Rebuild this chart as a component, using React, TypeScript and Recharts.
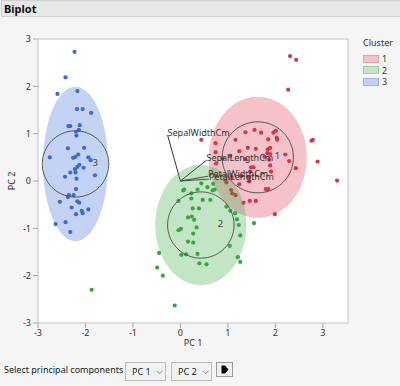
import React from "react";
import {
  ScatterChart,
  Scatter,
  XAxis,
  YAxis,
  CartesianGrid,
  ReferenceArea,
  ReferenceLine,
} from "recharts";

// principal component scores per cluster, [PC 1, PC 2]
const cluster1Points: [number, number][] = [
  [2.31, 2.64], [2.44, 2.56], [2.27, 1.93], [2.76, 0.85], [2.79, 0.87], [2.89, 0.41],
  [3.3, 0.01], [0.44, 0.87], [2.43, 0.27], [1.37, 1.03], [1.56, 1.08], [1.7, 1.02],
  [1.96, 1.02], [2.01, 1.06], [1.16, 0.87], [1.85, 0.88], [2.03, 0.91], [2.04, 0.87],
  [0.74, 0.8], [1.42, 0.7], [1.59, 0.68], [1.84, 0.67], [1.89, 0.7], [1.24, 0.63],
  [0.74, 0.61], [1.83, 0.59], [1.89, 0.57], [2.21, 0.56], [1.05, 0.53], [1.77, 0.51],
  [0.89, 0.48], [1.37, 0.46], [1.87, 0.45], [2.29, 0.42], [0.75, 0.37], [1.89, 0.33],
  [1.49, 0.29], [1.54, 0.29], [1.47, 0.2], [1.91, 0.2], [1.28, 0.11], [1.44, 0.08],
  [1.08, 0.08], [1.45, -0.01], [1.24, -0.07], [1.8, -0.17], [1.85, -0.17], [0.95, 0.01],
  [0.97, -0.03], [1.07, -0.19], [1.09, -0.26], [1.16, -0.3], [1.33, -0.46], [1.46, -0.42],
  [1.59, -0.42], [1.99, -0.7],
];

const cluster2Points: [number, number][] = [
  [0.08, -0.18], [0.06, -0.2], [0.23, -0.26], [0.44, -0.05], [0.36, -0.18], [0.57, -0.13],
  [0.69, -0.06], [0.68, -0.2], [0.72, -0.18], [-0.04, -0.42], [0.23, -0.37], [0.47, -0.4],
  [0.63, -0.4], [0.26, -0.58], [0.39, -0.58], [0.97, -0.54], [1.05, -0.63], [0.16, -0.77],
  [0.24, -0.75], [0.29, -0.82], [1.15, -0.68], [1.19, -0.81], [1.23, -0.93], [0.34, -0.98],
  [-0.04, -1.04], [0.01, -1.01], [0.27, -1.11], [1.26, -1.15], [0.16, -1.28], [0.27, -1.3],
  [1.04, -1.37], [-0.45, -1.52], [0.02, -1.56], [0.12, -1.55], [0.36, -1.54], [1.21, -1.61],
  [1.26, -1.71], [0.4, -1.74], [0.55, -1.76], [-0.49, -1.83], [-0.37, -2.0], [1.55, -0.89],
  [-0.12, -2.63], [-1.87, -2.3],
];

const cluster3Points: [number, number][] = [
  [-2.23, 2.73], [-2.42, 2.19], [-2.59, 1.84], [-2.17, 1.9], [-2.18, 1.52], [-2.06, 1.52],
  [-1.88, 1.44], [-2.36, 1.16], [-2.32, 1.16], [-2.12, 1.18], [-2.14, 1.08], [-2.2, 1.04],
  [-2.19, 0.96], [-2.37, 0.69], [-2.03, 0.7], [-2.75, 0.5], [-2.26, 0.49], [-2.21, 0.51],
  [-2.15, 0.56], [-1.94, 0.5], [-1.89, 0.44], [-2.13, 0.34], [-2.17, 0.3], [-2.22, 0.25],
  [-2.04, 0.28], [-2.32, 0.18], [-2.21, 0.18], [-2.43, 0.09], [-1.8, 0.12], [-2.19, 0.05],
  [-2.2, -0.17], [-2.35, -0.3], [-2.25, -0.3], [-2.37, -0.34], [-2.17, -0.43], [-2.13, -0.46],
  [-2.54, -0.44], [-2.29, -0.56], [-2.08, -0.63], [-2.06, -0.68], [-1.94, -0.6], [-2.2, -0.7],
  [-2.42, -0.87], [-2.63, -0.91], [-2.32, -1.08],
];

const clusterNames = ["1", "2", "3"];
const clusterColors = ["#d93448", "#34a83e", "#3a6ad8"];
const swatchFill = ["#f3c5cb", "#c5e5c6", "#c5d1f1"];
const swatchBorder = ["#e2a0aa", "#9dd1a1", "#9fb3e8"];

// cluster means and density ellipse radii
const centerX = [1.63, 0.43, -2.21];
const centerY = [0.5, -0.93, 0.36];
const ellipseRx = [1.03, 0.96, 0.685];
const ellipseRy = [1.28, 1.27, 1.63];
const circleR = [0.75, 0.7, 0.7];

// biplot loading rays
const variables = ["SepalWidthCm", "SepalLengthCm", "PetalWidthCm", "PetalLengthCm"];
const loadingX = [-0.27, 0.55, 0.58, 0.6];
const loadingY = [0.97, 0.44, 0.1, 0.04];

const xTicks = [-3, -2, -1, 0, 1, 2, 3];
const yTicks = [-3, -2, -1, 0, 1, 2, 3];

const toXY = (pts: [number, number][]) => pts.map(([x, y]) => ({ x, y }));
const outline = (cx: number, cy: number, rx: number, ry: number) =>
  Array.from({ length: 97 }, (_, i) => {
    const t = (i / 96) * Math.PI * 2;
    return { x: cx + rx * Math.cos(t), y: cy + ry * Math.sin(t) };
  });

const allPoints = [cluster1Points, cluster2Points, cluster3Points];
const font = "'Noto Sans', sans-serif";
const hidden = () => <g />;

function Dropdown({ left, text }: { left: number; text: string }) {
  return (
    <div
      style={{
        position: "absolute",
        left,
        top: 362,
        width: 41,
        height: 19,
        border: "1px solid #bdbdbd",
        background: "#f2f2f2",
        boxSizing: "border-box",
        color: "#222",
      }}
    >
      <span style={{ position: "absolute", left: 6, top: 0, fontSize: 9, lineHeight: "17px" }}>{text}</span>
      <svg width="7" height="5" style={{ position: "absolute", left: 30, top: 7 }}>
        <path d="M0.5 0.8 L3.5 3.8 L6.5 0.8" fill="none" stroke="#888" strokeWidth="0.9" />
      </svg>
    </div>
  );
}

export default function App() {
  return (
    <div
      style={{
        position: "absolute",
        left: 0,
        top: 0,
        width: 400,
        height: 386,
        background: "#f5f5f5",
        fontFamily: font,
        overflow: "hidden",
      }}
    >
      <div style={{ position: "absolute", left: 0, top: 0 }}>
        <ScatterChart width={400} height={360} margin={{ top: 39, right: 52, bottom: 7, left: 0 }}>
          <CartesianGrid horizontal={false} vertical={false} fill="#ffffff" />
          <XAxis
            type="number"
            dataKey="x"
            domain={[-3, 3.53]}
            ticks={xTicks}
            allowDataOverflow
            height={30}
            axisLine={false}
            tickSize={5}
            tickLine={{ stroke: "#a8a8a8" }}
            tick={{ fontSize: 9, fill: "#333" }}
            label={{ value: "PC 1", position: "insideBottom", offset: 7, fontSize: 9, fill: "#333" }}
          />
          <YAxis
            type="number"
            dataKey="y"
            domain={[-3, 3]}
            ticks={yTicks}
            allowDataOverflow
            width={38}
            axisLine={false}
            tickSize={5}
            tickLine={{ stroke: "#a8a8a8" }}
            tick={{ fontSize: 9, fill: "#333" }}
            label={{
              value: "PC 2",
              angle: -90,
              position: "insideLeft",
              offset: 12,
              fontSize: 9,
              fill: "#333",
              style: { textAnchor: "middle" },
            }}
          />
          <ReferenceArea x1={-3} x2={3.53} y1={-3} y2={3} fill="none" stroke="#c4c4c4" strokeWidth={1} />
          {allPoints.map((pts, i) => [
            <Scatter
              key={`e${i}`}
              data={outline(centerX[i], centerY[i], ellipseRx[i], ellipseRy[i])}
              fill={clusterColors[i]}
              line={{ fill: clusterColors[i], fillOpacity: 0.3, stroke: "none" }}
              shape={hidden}
              isAnimationActive={false}
            />,
            <Scatter
              key={`p${i}`}
              data={toXY(pts)}
              fill={clusterColors[i]}
              shape={(p: any) => <circle cx={p.cx} cy={p.cy} r={2.1} fill={clusterColors[i]} />}
              isAnimationActive={false}
            />,
          ])}
          {clusterNames.map((_, i) => (
            <Scatter
              key={`c${i}`}
              data={outline(centerX[i], centerY[i], circleR[i], circleR[i])}
              fill="#555"
              line={{ fill: "none", stroke: "#555", strokeWidth: 1 }}
              shape={hidden}
              isAnimationActive={false}
            />
          ))}
          {variables.map((v, i) => (
            <ReferenceLine
              key={v}
              segment={[
                { x: 0, y: 0 },
                { x: loadingX[i], y: loadingY[i] },
              ]}
              stroke="#333"
              strokeWidth={1}
            />
          ))}
          <Scatter
            data={variables.map((name, i) => ({ x: loadingX[i], y: loadingY[i], name }))}
            fill="#333"
            shape={(p: any) => (
              <text x={p.cx} y={p.cy + 1} fontSize={9} fill="#333" fontFamily={font}>
                {p.payload.name}
              </text>
            )}
            isAnimationActive={false}
          />
          <Scatter
            data={clusterNames.map((name, i) => ({ x: centerX[i], y: centerY[i], name }))}
            fill="#333"
            shape={(p: any) => (
              <text x={p.cx + 17} y={p.cy} dy={2} fontSize={9.5} fill="#444" fontFamily={font}>
                {p.payload.name}
              </text>
            )}
            isAnimationActive={false}
          />
        </ScatterChart>
      </div>

      <div
        style={{
          position: "absolute",
          left: 1,
          top: 0,
          width: 396,
          height: 15,
          background: "#e7e7e7",
          border: "1px solid #d0d0d0",
          fontWeight: 700,
          fontSize: 11,
          lineHeight: "15px",
          paddingLeft: 2,
          boxSizing: "content-box",
          color: "#111",
        }}
      >
        Biplot
      </div>

      <div style={{ position: "absolute", left: 363, top: 36, fontSize: 9, color: "#333" }}>
        <div style={{ lineHeight: "13px", marginBottom: 4 }}>Cluster</div>
        {clusterNames.map((name, i) => (
          <div key={name} style={{ display: "flex", alignItems: "center", height: 11.5 }}>
            <div
              style={{
                width: 14,
                height: 6,
                background: swatchFill[i],
                border: `1px solid ${swatchBorder[i]}`,
                marginRight: 3,
              }}
            />
            <span style={{ lineHeight: "11px" }}>{name}</span>
          </div>
        ))}
      </div>

      <div style={{ position: "absolute", left: 4, top: 363, fontSize: 9, color: "#222", lineHeight: "13px" }}>
        Select principal components
      </div>
      <Dropdown left={125} text="PC 1" />
      <Dropdown left={171} text="PC 2" />
      <div
        style={{
          position: "absolute",
          left: 216,
          top: 362,
          width: 17,
          height: 15,
          border: "1px solid #9a9a9a",
          background: "#f0f0f0",
          boxSizing: "border-box",
        }}
      >
        <svg width="15" height="13" style={{ position: "absolute", left: 0, top: 0 }}>
          <path d="M4.5 2.5 L8 2.5 L11.5 6.5 L8 10.5 L4.5 10.5 Z" fill="#000" />
        </svg>
      </div>
    </div>
  );
}
